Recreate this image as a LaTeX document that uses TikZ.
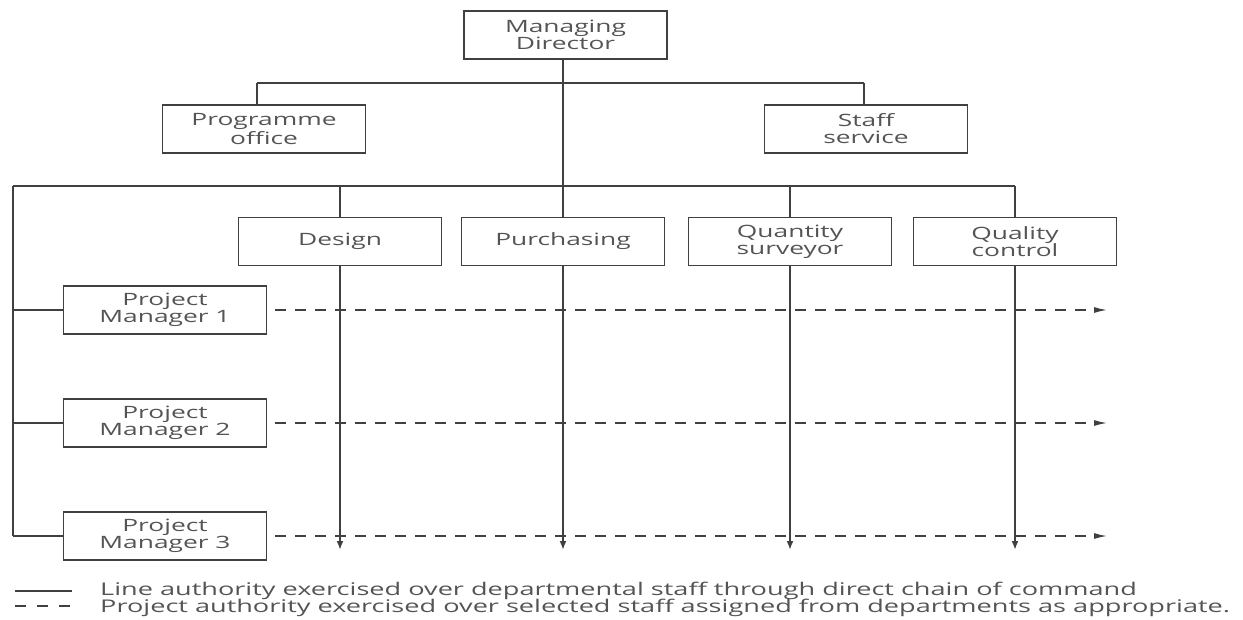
\documentclass[tikz,border=0pt]{standalone}
\usepackage{fontspec}
\setmainfont{Open Sans}[FakeStretch=1.55]
\usetikzlibrary{arrows.meta}
\definecolor{ink}{gray}{0.25}
\definecolor{txt}{gray}{0.33}
\begin{document}
\begin{tikzpicture}[x=1pt,y=-1pt,
  box/.style={draw=ink, line width=1.3pt, minimum width=203pt, minimum height=48pt,
    inner sep=0pt, align=center, text=txt, font=\fontsize{17}{17}\selectfont},
  link/.style={draw=ink, line width=1.3pt},
  drop/.style={draw=ink, line width=1.8pt},
  down/.style={drop, -{Latex[length=9pt,width=7pt]}},
  proj/.style={draw=ink, line width=1.3pt, dash pattern=on 11pt off 9pt},
  projarrow/.style={proj, -{Latex[length=13pt,width=6pt]}},
  legendtxt/.style={text=txt, font=\fontsize{17.5}{18}\selectfont, anchor=base west, inner sep=0pt}]
\useasboundingbox (0,0) rectangle (1243,619);

% boxes
\node[box] (md)  at (565.5,35)  {Managing\\Director};
\node[box] (po)  at (264,129)   {Programme\\office};
\node[box] (ss)  at (866,129)   {Staff\\service};
\node[box] (des) at (340,241.5) {Design};
\node[box] (pur) at (563,241.5)   {Purchasing};
\node[box] (qs)  at (790,241.5)   {Quantity\\surveyor};
\node[box] (qc)  at (1015,241.5)  {Quality\\control};
\node[box] (pm1) at (165,310) {Project\\Manager 1};
\node[box] (pm2) at (165,423) {Project\\Manager 2};
\node[box] (pm3) at (165,536) {Project\\Manager 3};

% junction points
\coordinate (poT) at (257,83);
\coordinate (ssT) at (864,83);
\coordinate (row) at (563,186);
\coordinate (rowL) at (13,186);
\coordinate (bottom) at (0,550);
\coordinate (tipx) at (1107,0);

% staff level
\draw[link] (poT) -- (ssT);
\draw[drop] (po.north -| poT) -- (poT);
\draw[drop] (ss.north -| ssT) -- (ssT);

% department row
\draw[link] (rowL) -- (row -| qc.north);

% project authority (dashed)
\foreach \p in {pm1,pm2,pm3}{
  \draw[projarrow] ([xshift=8pt]\p.east) -- (\p.east -| tipx);
  \draw[link] (rowL |- \p.west) -- (\p.west);
}
\draw[drop] (rowL) -- (rowL |- pm3.west);

% line authority
\draw[drop] (md.south -| pur.north) -- (pur.north);
\foreach \d in {des,qs,qc}{
  \draw[drop] (row -| \d.north) -- (\d.north);
}
\foreach \d in {des,pur,qs,qc}{
  \draw[down] (\d.south) -- (\d.south |- bottom);
}

% legend
\coordinate (la) at (15,591);
\coordinate (lb) at (72,591);
\coordinate (lc) at (15,606);
\coordinate (ld) at (72,606);
\draw[link] (la) -- (lb);
\draw[proj, dash pattern=on 11pt off 11pt] (lc) -- (ld);
\node[legendtxt] (leg1) at (100,595) {Line authority exercised over departmental staff through direct chain of command};
\node[legendtxt] (leg2) at (100,612) {Project authority exercised over selected staff assigned from departments as appropriate.};
\end{tikzpicture}
\end{document}
